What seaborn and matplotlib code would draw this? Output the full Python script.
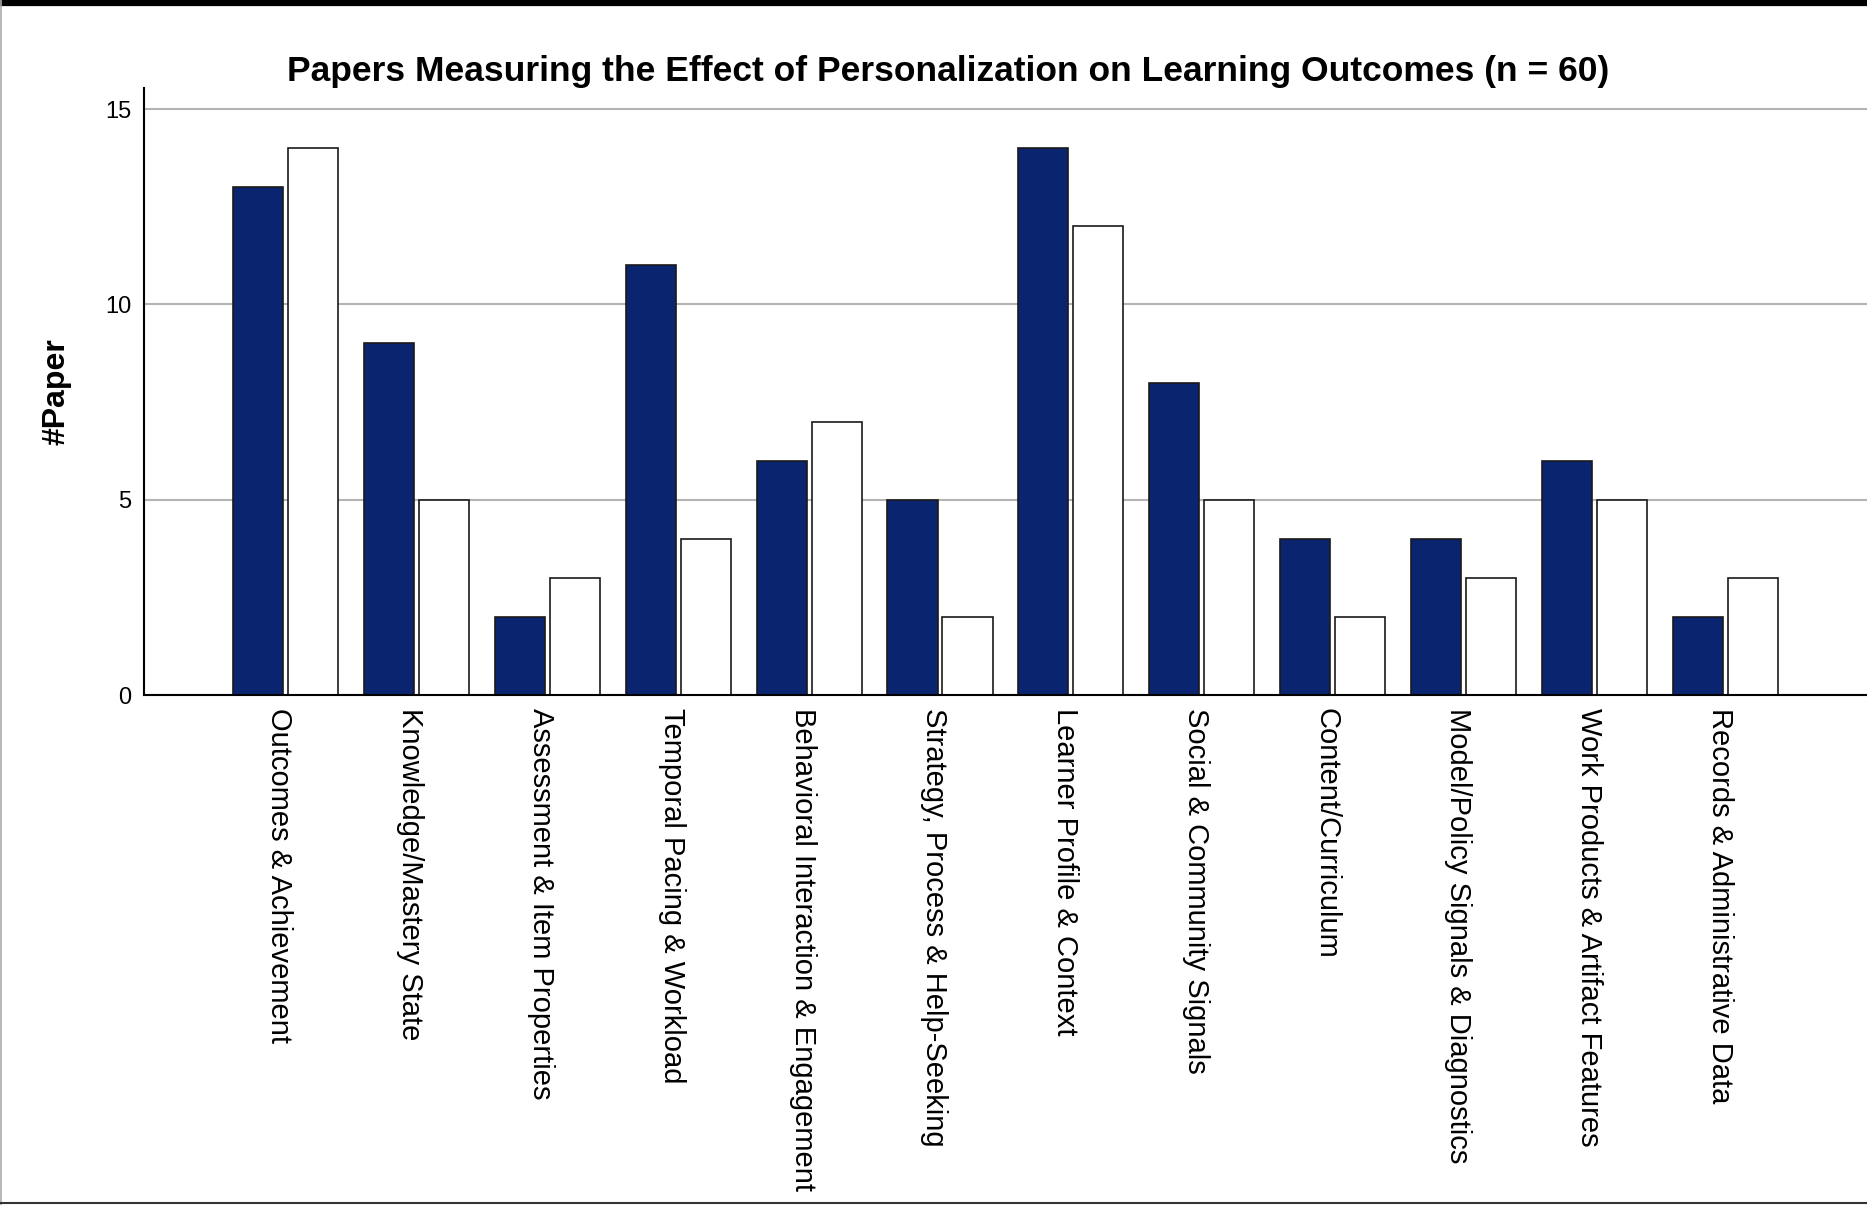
import pandas as pd
import matplotlib.pyplot as plt
import matplotlib.transforms as mtransforms
import seaborn as sns
from matplotlib.lines import Line2D

# 数据
categories = [
    "Outcomes & Achievement",
    "Knowledge/Mastery State",
    "Assessment & Item Properties",
    "Temporal Pacing & Workload",
    "Behavioral Interaction & Engagement",
    "Strategy, Process & Help-Seeking",
    "Learner Profile & Context",
    "Social & Community Signals",
    "Content/Curriculum",
    "Model/Policy Signals & Diagnostics",
    "Work Products & Artifact Features",
    "Records & Administrative Data",
]
series_names = ["Series 1", "Series 2"]
series_1 = [13, 9, 2, 11, 6, 5, 14, 8, 4, 4, 6, 2]
series_2 = [14, 5, 3, 4, 7, 2, 12, 5, 2, 3, 5, 3]
y_ticks = [0, 5, 10, 15]

df = pd.DataFrame({
    "category": categories * 2,
    "series": [series_names[0]] * len(categories) + [series_names[1]] * len(categories),
    "papers": series_1 + series_2,
})

sns.set_style("white")
plt.rcParams['font.family'] = ['Liberation Sans', 'DejaVu Sans']
plt.rcParams['text.color'] = 'black'
plt.rcParams['xtick.color'] = 'black'
plt.rcParams['ytick.color'] = 'black'

fig = plt.figure(figsize=(18.67, 12.05), dpi=100)
ax = fig.add_axes([0.0771, 0.4232, 0.9229, 0.5038])

sns.barplot(
    data=df, x="category", y="papers", hue="series",
    order=categories, hue_order=series_names,
    palette=["#0A2470", "#FFFFFF"], saturation=1,
    edgecolor="#1a1a1a", linewidth=1.2,
    width=0.84, gap=0.09, legend=False, ax=ax,
)

ax.set_xlim(-1.08, 12.08)
ax.set_ylim(0, 15.54)
ax.set_yticks(y_ticks)
ax.set_yticklabels([str(t) for t in y_ticks], fontsize=17, color="black")
ax.tick_params(axis="y", length=0, pad=9)
ax.tick_params(axis="x", length=0, pad=9)
ax.set_xticks(range(len(categories)))
ax.set_xticklabels(categories, rotation=-90, fontsize=21, va="top", ha="center", color="black")

# x 标签略微左移
shift = mtransforms.ScaledTranslation(-0.06, 0, fig.dpi_scale_trans)
for lbl in ax.get_xticklabels():
    lbl.set_transform(lbl.get_transform() + shift)

ax.yaxis.grid(True, color="#b4b4b4", linewidth=1.5)
ax.set_axisbelow(True)

for side in ["top", "right"]:
    ax.spines[side].set_visible(False)
for side in ["left", "bottom"]:
    ax.spines[side].set_color("black")
    ax.spines[side].set_linewidth(1.5)

ax.set_xlabel("")
ax.set_ylabel("")
fig.text(0.030, 0.675, "#Paper", rotation=90, fontsize=23, fontweight="bold",
         ha="center", va="center", color="black")
fig.text(0.508, 0.933, "Papers Measuring the Effect of Personalization on Learning Outcomes (n = 60)",
         fontsize=25.5, fontweight="bold", ha="center", va="baseline", color="black")

# 外框
fig.add_artist(Line2D([0, 1], [0.9975, 0.9975], transform=fig.transFigure, color="black", linewidth=4.5))
fig.add_artist(Line2D([0.0003, 0.0003], [0, 1], transform=fig.transFigure, color="#aaaaaa", linewidth=1.2))
fig.add_artist(Line2D([0, 1], [0.0017, 0.0017], transform=fig.transFigure, color="#333333", linewidth=1.5))

plt.savefig("out.png", dpi=100)
